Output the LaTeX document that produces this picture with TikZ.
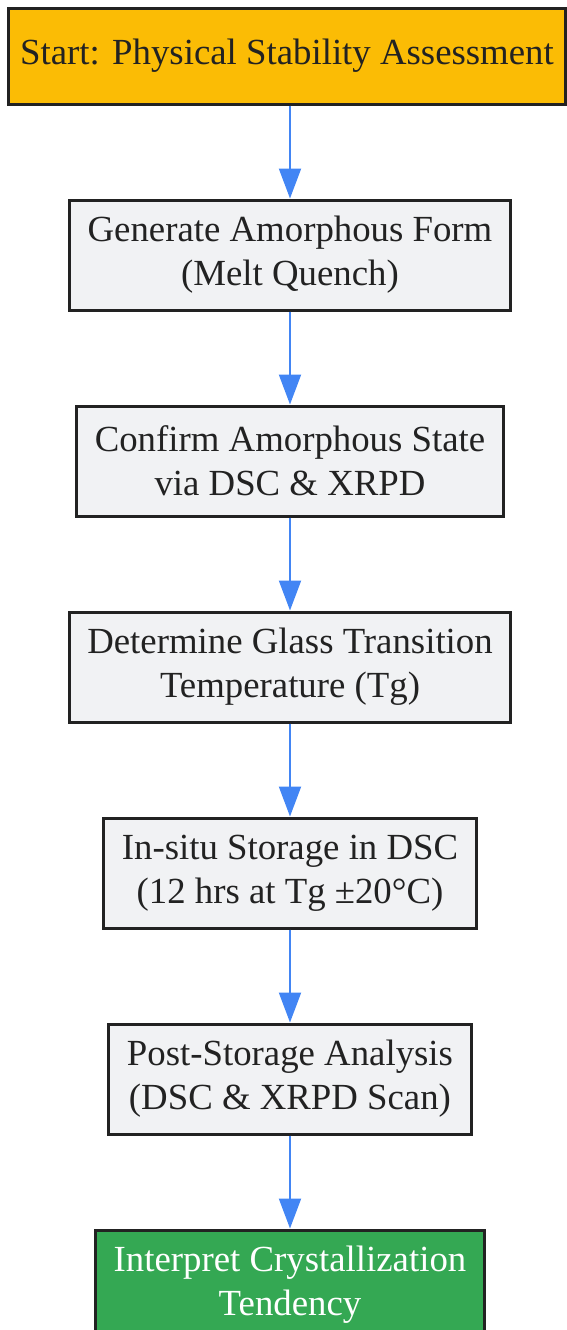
\documentclass[tikz,border=0pt]{standalone}
\usepackage{fontspec}
\setmainfont{Liberation Serif}
\usepackage{xcolor}
\usepackage{tikz}
\usetikzlibrary{positioning,arrows.meta}
\definecolor{startyellow}{HTML}{FBBC05}
\definecolor{endgreen}{HTML}{34A853}
\definecolor{stepgray}{HTML}{F1F2F4}
\definecolor{flowblue}{HTML}{4285F4}
\definecolor{edgedark}{HTML}{222222}
\tikzstyle{process}=[rectangle, draw=edgedark, line width=1.5pt, fill=stepgray, text=edgedark,
        align=center, minimum height=55pt, inner xsep=9pt, font=\fontsize{18.4}{22}\selectfont]
\tikzstyle{startbox}=[process, fill=startyellow, minimum height=48pt, inner xsep=6pt]
\tikzstyle{endbox}=[process, fill=endgreen, text=white]
\tikzstyle{myarrow}=[-{Triangle[length=15pt, width=11pt]}, draw=flowblue, fill=flowblue, line width=1pt]

\begin{document}
\begin{tikzpicture}[x=0.5pt, y=-0.5pt, node distance=46.5pt]
    \useasboundingbox (0,0) rectangle (567,1330);
    \node (Start) [startbox] at (287,56) {Start: Physical Stability Assessment};
    \node (Generate) [process, below=of Start, xshift=1.5pt]
        {Generate Amorphous Form\\(Melt Quench)};
    \node (Confirm) [process, below=of Generate]
        {Confirm Amorphous State\\via DSC \& XRPD};
    \node (Determine) [process, below=of Confirm]
        {Determine Glass Transition\\Temperature (Tg)};
    \node (Storage) [process, below=of Determine]
        {In-situ Storage in DSC\\(12 hrs at Tg ±20°C)};
    \node (Post) [process, below=of Storage]
        {Post-Storage Analysis\\(DSC \& XRPD Scan)};
    \node (Interpret) [endbox, below=of Post]
        {Interpret Crystallization\\Tendency};
    \draw[myarrow] (Start.south -| Generate) -- (Generate);
    \draw[myarrow] (Generate) -- (Confirm);
    \draw[myarrow] (Confirm) -- (Determine);
    \draw[myarrow] (Determine) -- (Storage);
    \draw[myarrow] (Storage) -- (Post);
    \draw[myarrow] (Post) -- (Interpret);
\end{tikzpicture}
\end{document}
